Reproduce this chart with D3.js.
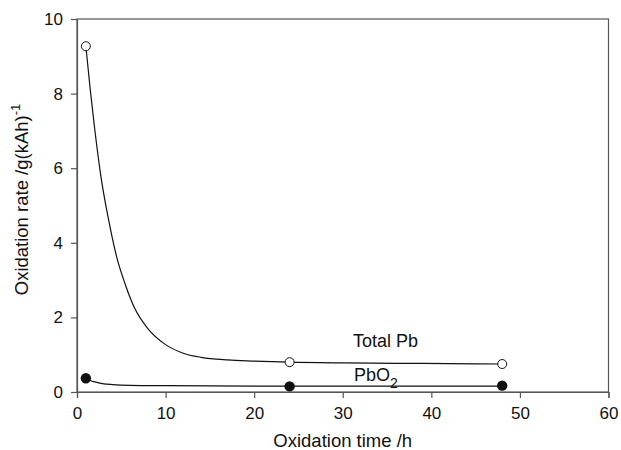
<!DOCTYPE html>
<html>
<head>
<meta charset="utf-8">
<script src="https://cdn.jsdelivr.net/npm/d3@7"></script>
<style>
	body { margin: 0; background: #fff; }
	svg { font-family: Arial, "Liberation Sans", sans-serif; }
</style>
</head>
<body>
<div id="chart"></div>
<script>
// measured points
const totalPb = [[1, 9.27], [24, 0.80], [48, 0.75]];
const pbo2 = [[1, 0.37], [24, 0.15], [48, 0.17]];

// fitted curves
const totalPbFit = [[1, 9.27], [1.5, 8.1], [2, 7.05], [2.75, 5.7], [3.5, 4.7], [4.5, 3.6], [5.5, 2.85],
	[6.5, 2.25], [8, 1.7], [10, 1.27], [12, 1.04], [14, 0.93], [17, 0.86], [20, 0.83], [24, 0.80],
	[30, 0.78], [36, 0.77], [42, 0.76], [48, 0.75]];
const pbo2Fit = [[1, 0.37], [1.5, 0.31], [2, 0.27], [3, 0.22], [4, 0.2], [6, 0.18], [10, 0.17],
	[20, 0.16], [30, 0.16], [48, 0.16]];

const xTicks = [0, 10, 20, 30, 40, 50, 60];
const yTicks = [0, 2, 4, 6, 8, 10];

const width = 621;
const height = 450;
const margin = {top: 19, right: 12, bottom: 58, left: 77};

const svg = d3.select("#chart")
				.append("svg")
					.attr("width", width)
					.attr("height", height);

const x = d3.scaleLinear()
				.domain([0, 60])
				.range([margin.left, width - margin.right - 0.5]);
const y = d3.scaleLinear()
				.domain([0, 10])
				.range([height - margin.bottom, margin.top]);

const axisColor = "#555";

// frame
svg.append("rect")
	.attr("x", x(0)).attr("y", y(10))
	.attr("width", x(60) - x(0)).attr("height", y(0) - y(10))
	.attr("fill", "none").attr("stroke", axisColor).attr("stroke-width", 1.2);

const xAxis = svg.append("g")
	.attr("transform", `translate(0,${y(0)})`)
	.call(d3.axisBottom(x).tickValues(xTicks).tickSize(6).tickPadding(9));
const yAxis = svg.append("g")
	.attr("transform", `translate(${x(0)},0)`)
	.call(d3.axisLeft(y).tickValues(yTicks).tickSize(6).tickPadding(8));

[xAxis, yAxis].forEach((g) => {
	g.select(".domain").attr("stroke", axisColor).attr("stroke-width", 1.2);
	g.selectAll(".tick line").attr("stroke", axisColor).attr("stroke-width", 1.2);
	g.selectAll(".tick text").attr("fill", "#111").style("font-size", "17px");
});

const line = d3.line()
				.x((d) => x(d[0]))
				.y((d) => y(d[1]))
				.curve(d3.curveMonotoneX);

svg.append("path").datum(totalPbFit)
	.attr("d", line).attr("fill", "none").attr("stroke", "#111").attr("stroke-width", 1.2);
svg.append("path").datum(pbo2Fit)
	.attr("d", line).attr("fill", "none").attr("stroke", "#111").attr("stroke-width", 1.2);

svg.selectAll("circle.total")
	.data(totalPb).enter()
	.append("circle")
		.attr("class", "total")
		.attr("cx", (d) => x(d[0]))
		.attr("cy", (d) => y(d[1]))
		.attr("r", 4.5)
		.attr("fill", "#fff")
		.attr("stroke", "#111")
		.attr("stroke-width", 1);

svg.selectAll("circle.pbo2")
	.data(pbo2).enter()
	.append("circle")
		.attr("class", "pbo2")
		.attr("cx", (d) => x(d[0]))
		.attr("cy", (d) => y(d[1]))
		.attr("r", 5.2)
		.attr("fill", "#111");

// series labels
svg.append("text")
	.attr("x", 353).attr("y", 347)
	.style("font-size", "18px").attr("fill", "#111")
	.text("Total Pb");
const pbLabel = svg.append("text")
	.attr("x", 354).attr("y", 381)
	.style("font-size", "18px").attr("fill", "#111");
pbLabel.append("tspan").text("PbO");
pbLabel.append("tspan").attr("dy", 7).style("font-size", "14px").text("2");

// axis titles
svg.append("text")
	.attr("x", (x(0) + x(60)) / 2).attr("y", 447)
	.attr("text-anchor", "middle")
	.style("font-size", "18.5px").attr("fill", "#111")
	.text("Oxidation time /h");

const yTitle = svg.append("text")
	.attr("transform", `translate(28,${(y(0) + y(10)) / 2 - 6}) rotate(-90)`)
	.attr("text-anchor", "middle")
	.style("font-size", "18.5px").attr("fill", "#111");
yTitle.append("tspan").text("Oxidation rate /g(kAh)");
yTitle.append("tspan").attr("dy", -8).style("font-size", "13px").text("-1");
</script>
</body>
</html>
